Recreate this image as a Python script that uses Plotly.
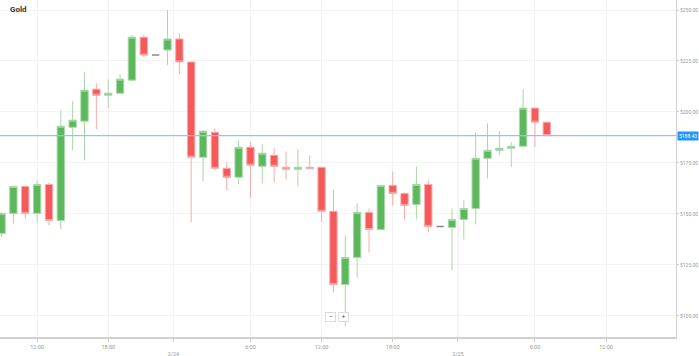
import pandas as pd
import plotly.graph_objects as go

title = "Gold"
start_time = "2026-02-23 09:00"
opens = [5140.5, 5150.3, 5163.5, 5150.3, 5164.5, 5146.8, 5192.5, 5195.5, 5211.2, 5208.2,
         5209.2, 5215.6, 5236.7, 5227.9, 5230.4, 5235.8, 5224.5, 5177.8, 5190.1, 5172.4,
         5168.0, 5182.7, 5173.4, 5178.8, 5172.9, 5171.9, 5172.9, 5172.9, 5151.3, 5115.4,
         5128.7, 5150.8, 5142.4, 5164.0, 5160.1, 5154.7, 5164.5, 5143.9, 5143.4, 5147.3,
         5152.7, 5177.3, 5181.2, 5182.2, 5183.2, 5201.9, 5195.0]
highs = [5150.8, 5164.0, 5163.8, 5166.5, 5165.5, 5200.9, 5205.3, 5219.5, 5214.1, 5216.1,
         5218.6, 5237.7, 5237.7, 5227.9, 5250.0, 5238.7, 5224.8, 5191.1, 5192.0, 5175.3,
         5186.1, 5185.2, 5184.2, 5182.2, 5180.7, 5181.7, 5178.8, 5173.0, 5161.6, 5139.5,
         5155.2, 5152.7, 5164.0, 5170.9, 5160.5, 5173.4, 5166.5, 5143.9, 5152.7, 5156.7,
         5190.1, 5194.5, 5190.6, 5185.2, 5211.2, 5202.0, 5195.2]
lows = [5139.0, 5145.4, 5147.8, 5145.9, 5144.4, 5142.4, 5181.2, 5176.3, 5191.5, 5201.9,
        5209.0, 5215.4, 5226.9, 5227.9, 5223.0, 5218.6, 5145.9, 5166.0, 5171.5, 5161.6,
        5164.5, 5157.7, 5165.0, 5165.5, 5167.0, 5163.5, 5171.9, 5145.9, 5111.5, 5094.8,
        5118.8, 5131.1, 5142.4, 5154.2, 5147.3, 5147.3, 5141.0, 5143.9, 5122.3, 5137.5,
        5144.9, 5167.5, 5178.8, 5172.9, 5183.0, 5182.7, 5188.2]
closes = [5150.3, 5163.5, 5150.3, 5164.5, 5146.8, 5193.0, 5196.0, 5210.7, 5208.2, 5209.2,
          5216.1, 5236.7, 5227.9, 5227.9, 5235.8, 5224.5, 5177.8, 5190.6, 5172.4, 5168.0,
          5182.7, 5173.9, 5179.8, 5173.4, 5171.9, 5172.9, 5172.4, 5151.3, 5115.4, 5128.7,
          5150.8, 5142.4, 5164.0, 5160.1, 5154.2, 5164.5, 5143.9, 5143.9, 5147.3, 5152.7,
          5177.3, 5181.2, 5182.2, 5183.2, 5201.9, 5195.0, 5188.43]

tick_times = ["2026-02-23 12:00", "2026-02-23 18:00", "2026-02-23 23:30", "2026-02-24 06:00",
              "2026-02-24 12:00", "2026-02-24 18:00", "2026-02-24 23:30", "2026-02-25 06:00",
              "2026-02-25 12:00"]
tick_labels = ["12:00", "18:00", "<br>2/24", "6:00", "12:00", "18:00", "<br>2/25", "6:00", "12:00"]
day_breaks = ["2026-02-23 23:30", "2026-02-24 23:30"]
y_ticks = [5100, 5125, 5150, 5175, 5200, 5225, 5250]

GREEN = "#5cb85c"
RED = "#f55a5a"

times = pd.date_range(start_time, periods=len(opens), freq="h")
df = pd.DataFrame({"t": times, "o": opens, "h": highs, "l": lows, "c": closes})
normal = df[df.o != df.c]
doji = df[df.o == df.c]

t0 = times[0]
x_range = [t0 - pd.Timedelta(hours=0.13), t0 + pd.Timedelta(hours=56.9)]
last = closes[-1]

fig = go.Figure()
for d in day_breaks:
    fig.add_vline(x=pd.Timestamp(d), line=dict(color="#e6e6e6", width=1), layer="below")
fig.add_trace(go.Candlestick(
    x=normal.t, open=normal.o, high=normal.h, low=normal.l, close=normal.c,
    increasing=dict(fillcolor=GREEN, line=dict(color="#a8d8a8", width=1)),
    decreasing=dict(fillcolor=RED, line=dict(color="#f9abab", width=1)),
    whiskerwidth=0, hoverinfo="skip", showlegend=False))
fig.add_trace(go.Candlestick(
    x=doji.t, open=doji.o, high=doji.h, low=doji.l, close=doji.c,
    increasing=dict(fillcolor="#888888", line=dict(color="#888888", width=1.5)),
    decreasing=dict(fillcolor="#888888", line=dict(color="#888888", width=1.5)),
    whiskerwidth=0, hoverinfo="skip", showlegend=False))
fig.add_trace(go.Scatter(x=x_range, y=[last, last], mode="lines",
                         line=dict(color="#8cc6f2", width=1.2),
                         hoverinfo="skip", showlegend=False))

fig.add_annotation(xref="paper", yref="y", x=1.0, y=last, text=f"{last:.2f}",
                   showarrow=False, xanchor="left", yanchor="middle", xshift=1,
                   font=dict(size=5, color="white", family="Roboto"),
                   bgcolor="#2196f3", borderpad=1)
fig.add_annotation(xref="paper", yref="paper", x=0.012, y=1.0, yshift=-3, text="<b>Gold</b>",
                   showarrow=False, xanchor="left", yanchor="top",
                   font=dict(size=8, color="#333333", family="Roboto"),
                   bgcolor="white", borderpad=1)
fig.add_annotation(xref="paper", yref="paper", x=0.489, y=0.045, text="−",
                   showarrow=False, font=dict(size=7, color="#666666"),
                   bgcolor="white", bordercolor="#dddddd", borderwidth=1, borderpad=0, width=9, height=8)
fig.add_annotation(xref="paper", yref="paper", x=0.508, y=0.045, text="+",
                   showarrow=False, font=dict(size=7, color="#666666"),
                   bgcolor="white", bordercolor="#dddddd", borderwidth=1, borderpad=0, width=9, height=8)

fig.update_layout(
    width=699, height=356,
    margin=dict(l=0, r=23, t=0, b=19),
    paper_bgcolor="white", plot_bgcolor="white",
    boxgap=0.38, boxgroupgap=0,
    font=dict(family="Roboto", size=5, color="#999999"),
    hovermode=False,
)
fig.update_xaxes(
    type="date", automargin=False,
    range=x_range,
    rangeslider_visible=False,
    tickvals=[pd.Timestamp(t) for t in tick_times], ticktext=tick_labels,
    tickfont=dict(size=5.5, color="#999999"),
    ticks="outside", ticklen=3, tickcolor="#cccccc",
    showgrid=True, gridcolor="#f3f3f3", gridwidth=1,
    showline=True, linecolor="#d0d0d0", linewidth=2,
    zeroline=False, fixedrange=True,
)
fig.update_yaxes(
    side="right", automargin=False, range=[5089.7, 5254.9],
    tickvals=y_ticks, ticktext=[f"{v:.2f}" for v in y_ticks],
    tickfont=dict(size=5, color="#999999"),
    ticks="outside", ticklen=2, tickcolor="#cccccc",
    showgrid=True, gridcolor="#f3f3f3", gridwidth=1,
    showline=True, linecolor="#d0d0d0", linewidth=1, mirror=False,
    zeroline=False, fixedrange=True,
)

fig.write_html("out.html", config={"displayModeBar": False},
               post_script="document.body.style.margin='0';document.body.style.overflow='hidden';")
